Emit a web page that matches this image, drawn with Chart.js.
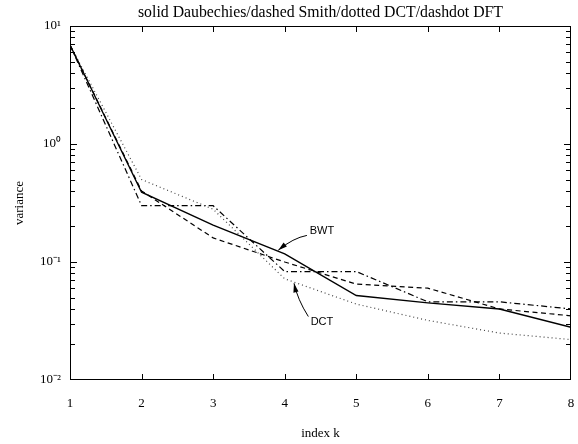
<!DOCTYPE html>
<html><head><meta charset="utf-8">
<script src="https://cdn.jsdelivr.net/npm/chart.js@4"></script>
<style>html,body{margin:0;padding:0;background:#fff}#wrap{width:578px;height:444px}</style>
</head><body><div id="wrap"><canvas id="c" width="578" height="444"></canvas></div>
<script>
const indexK = [1, 2, 3, 4, 5, 6, 7, 8];
const daubechies = [6.9, 0.39, 0.205, 0.117, 0.052, 0.045, 0.040, 0.028];
const smith = [6.9, 0.40, 0.16, 0.10, 0.065, 0.060, 0.040, 0.035];
const dct = [6.9, 0.50, 0.28, 0.072, 0.044, 0.032, 0.025, 0.022];
const dft = [6.9, 0.30, 0.30, 0.083, 0.083, 0.046, 0.046, 0.040];
const yTickValues = [10, 1, 0.1, 0.01];
const yTickLabels = ['10\u00B9', '10\u2070', '10\u207B\u00B9', '10\u207B\u00B2'];
const xTickLabels = ['1', '2', '3', '4', '5', '6', '7', '8'];
const titleText = 'solid Daubechies/dashed Smith/dotted DCT/dashdot DFT';

// callouts in data space: label position, arrow start, arrow tip, bend control
const callouts = [
  { text: 'BWT', at: [4.52, 0.183], from: [4.31, 0.168], ctrl: [4.12, 0.160], to: [3.91, 0.126] },
  { text: 'DCT', at: [4.52, 0.031], from: [4.33, 0.0345], ctrl: [4.18, 0.048], to: [4.13, 0.066] }
];

const serif = 'Liberation Serif, Times New Roman, serif';
const toPts = arr => indexK.map((k, i) => ({ x: k, y: arr[i] }));

const framePlugin = {
  id: 'frame',
  afterDraw(chart) {
    const { ctx, chartArea: a, scales: { x, y } } = chart;
    ctx.save();
    ctx.strokeStyle = '#000';
    ctx.lineWidth = 1;
    ctx.strokeRect(a.left + 0.5, a.top + 0.5, a.right - a.left - 1, a.bottom - a.top - 1);
    ctx.beginPath();
    indexK.slice(1, -1).forEach(k => {
      const px = Math.round(x.getPixelForValue(k)) + 0.5;
      ctx.moveTo(px, a.bottom); ctx.lineTo(px, a.bottom - 6);
      ctx.moveTo(px, a.top); ctx.lineTo(px, a.top + 6);
    });
    for (let d = 0.01; d < 10; d *= 10) {
      for (let m = 1; m <= 9; m++) {
        const v = m * d;
        if (v <= 0.0100001 || v >= 9.9999) continue;
        const py = Math.round(y.getPixelForValue(v)) + 0.5;
        const len = m === 1 ? 7 : 5;
        ctx.moveTo(a.left, py); ctx.lineTo(a.left + len, py);
        ctx.moveTo(a.right, py); ctx.lineTo(a.right - len, py);
      }
    }
    ctx.stroke();

    // callouts
    ctx.font = '11px Liberation Sans, Arial, sans-serif';
    ctx.fillStyle = '#000';
    ctx.textAlign = 'center';
    ctx.textBaseline = 'middle';
    callouts.forEach(c => {
      const P = p => [x.getPixelForValue(p[0]), y.getPixelForValue(p[1])];
      const [tx, ty] = P(c.at), [fx, fy] = P(c.from), [cx, cy] = P(c.ctrl), [ex, ey] = P(c.to);
      ctx.fillText(c.text, tx, ty);
      ctx.beginPath();
      ctx.lineWidth = 1;
      ctx.moveTo(fx, fy);
      ctx.quadraticCurveTo(cx, cy, ex, ey);
      ctx.stroke();
      const ang = Math.atan2(ey - cy, ex - cx);
      const L = 9, W = 2.6;
      ctx.beginPath();
      ctx.moveTo(ex, ey);
      ctx.lineTo(ex - L * Math.cos(ang) + W * Math.sin(ang), ey - L * Math.sin(ang) - W * Math.cos(ang));
      ctx.lineTo(ex - L * Math.cos(ang) - W * Math.sin(ang), ey - L * Math.sin(ang) + W * Math.cos(ang));
      ctx.closePath();
      ctx.fill();
    });
    ctx.restore();
  }
};

const common = { pointRadius: 0, fill: false, tension: 0, borderColor: '#000', borderWidth: 1.2 };

new Chart(document.getElementById('c'), {
  type: 'line',
  data: {
    datasets: [
      { ...common, label: 'Daubechies', data: toPts(daubechies), borderWidth: 1.4 },
      { ...common, label: 'Smith', data: toPts(smith), borderDash: [5, 3.5] },
      { ...common, label: 'DCT', data: toPts(dct), borderDash: [1, 3], borderColor: '#444' },
      { ...common, label: 'DFT', data: toPts(dft), borderDash: [6, 3, 1.5, 3] }
    ]
  },
  options: {
    responsive: false,
    animation: false,
    events: [],
    layout: { padding: { top: 0, right: 7, bottom: 0, left: 0 } },
    plugins: {
      legend: { display: false },
      tooltip: { enabled: false },
      title: {
        display: true, text: titleText, color: '#000', fullSize: false,
        font: { family: serif, size: 15.8, weight: 'normal' },
        padding: { top: 3, bottom: 4.04 }
      }
    },
    scales: {
      x: {
        type: 'linear', min: 1, max: 8,
        afterBuildTicks: s => { s.ticks = indexK.map(v => ({ value: v })); },
        afterFit: s => { s.height = 64; s.paddingLeft = 0; s.paddingRight = 0; },
        grid: { display: false, drawTicks: false },
        border: { display: false },
        ticks: {
          autoSkip: false, maxRotation: 0, padding: 16, color: '#000',
          font: { family: serif, size: 13 },
          callback: v => xTickLabels[indexK.indexOf(v)] ?? ''
        },
        title: { display: true, text: 'index k', color: '#000', font: { family: serif, size: 13 }, padding: { top: 0, bottom: 3 } }
      },
      y: {
        type: 'logarithmic', min: 0.01, max: 10,
        afterBuildTicks: s => { s.ticks = yTickValues.map(v => ({ value: v })); },
        afterFit: s => { s.width = 70; s.paddingTop = 0; s.paddingBottom = 0; },
        grid: { display: false, drawTicks: false },
        border: { display: false },
        ticks: {
          autoSkip: false, padding: 9, color: '#000',
          font: { family: serif, size: 13 },
          callback: v => yTickLabels[yTickValues.indexOf(v)] ?? ''
        },
        title: { display: true, text: 'variance', color: '#000', font: { family: serif, size: 13 }, padding: { top: 12, bottom: 0 } }
      }
    }
  },
  plugins: [framePlugin]
});
</script>
</body></html>
